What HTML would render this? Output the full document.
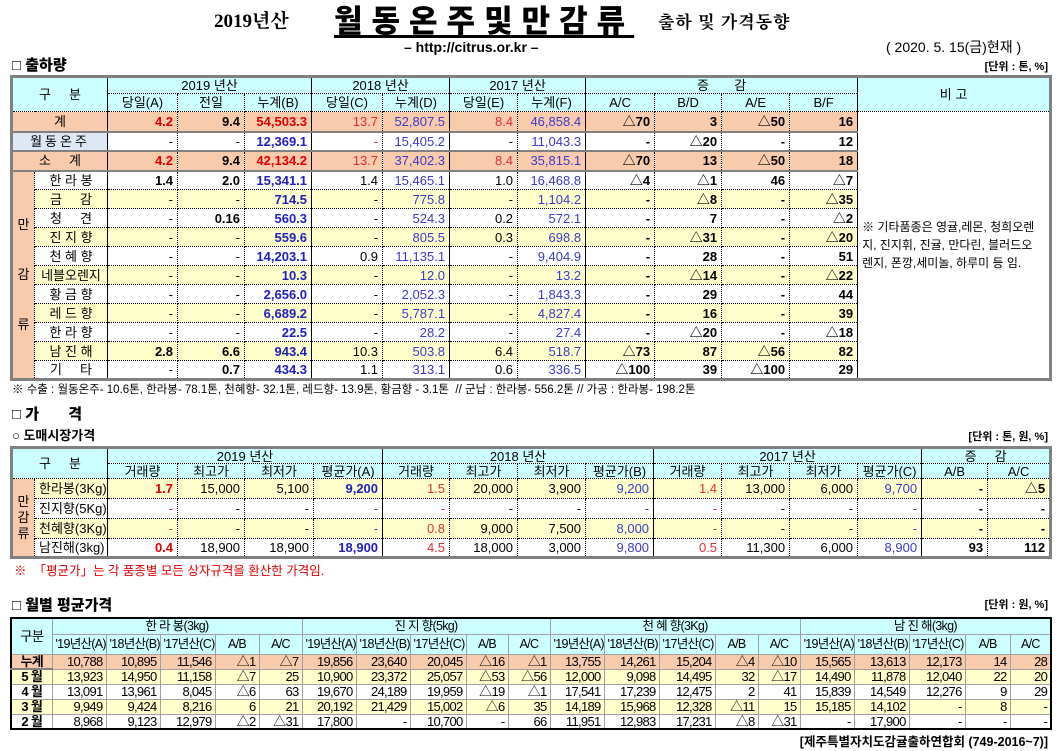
<!DOCTYPE html>
<html><head><meta charset="utf-8">
<style>
body{margin:0;background:#fff;width:1062px;height:751px;position:relative;overflow:hidden;font-family:"Liberation Sans","Noto Sans CJK KR",sans-serif;color:#000}
.a{position:absolute;white-space:nowrap;line-height:1.15}
table{position:absolute;border-collapse:collapse;table-layout:fixed}
td{padding:0 4px;text-align:right;white-space:nowrap;overflow:hidden;font-size:13px;line-height:13px}
.t1,.t2{border:3px solid #808080}
.t1 td,.t2 td{border:1px dotted #000}
.h td{background:#ccffff;text-align:center;font-weight:normal}
.c{text-align:center!important}
.l{text-align:left!important}
.pe td{background:#f8cbad}
.ye td{background:#ffffcc}
.wh td{background:#fff}
.sb{border-left:1px solid #000!important}
.gb td{border-bottom:2px solid #808080!important}
.r{color:#e00000;font-weight:bold}
.rn{color:#e03030}
.b{color:#2020c0;font-weight:bold}
.bn{color:#3a3acc}
.k{font-weight:bold}
.t3{border:2px solid #000}
.t3 td{border:1px solid #a0a0a0;font-size:13px;letter-spacing:-0.7px;padding:0 3px}
.t3 .sb{border-left:1px solid #000!important}
.t3 .h td{font-size:12.5px}
</style></head><body>

<div class="a" style="left:214px;top:11px;font-family:'Liberation Serif','Noto Serif CJK SC',serif;font-weight:bold;font-size:19px">2019년산</div>
<div class="a" style="left:334px;top:4px;font-family:'Liberation Sans','Noto Sans CJK KR',sans-serif;font-weight:900;font-size:31px;letter-spacing:9px;text-decoration:underline;text-underline-offset:3px">월동온주및만감류</div>
<div class="a" style="left:658px;top:13px;font-family:'Liberation Serif','Noto Serif CJK SC',serif;font-weight:bold;font-size:17px;letter-spacing:1px">출하 및 가격동향</div>
<div class="a" style="left:404px;top:39px;font-weight:bold;font-size:14px">– http://citrus.or.kr –</div>
<div class="a" style="left:886px;top:39px;font-size:14px">( 2020. 5. 15(금)현재 )</div>
<div class="a" style="left:12px;top:57px;font-weight:900;font-size:15px">□ 출하량</div>
<div class="a" style="right:14px;top:61px;font-weight:bold;font-size:11px">[단위 : 톤, %]</div>

<table class="t1" style="left:10px;top:75px;width:1039px">
<colgroup><col style="width:23px"><col style="width:73px"><col style="width:70px"><col style="width:67px"><col style="width:67px"><col style="width:71px"><col style="width:67px"><col style="width:68px"><col style="width:68px"><col style="width:69px"><col style="width:67px"><col style="width:68px"><col style="width:68px"><col style="width:193px"></colgroup>
<tr class="h" style="height:17px"><td colspan="2" rowspan="2">구 &nbsp; &nbsp; 분</td><td colspan="3" class="sb">2019 년산</td><td colspan="2" class="sb">2018 년산</td><td colspan="2" class="sb">2017 년산</td><td colspan="4" class="sb">증 &nbsp; &nbsp; &nbsp; 감</td><td rowspan="2" class="sb">비 고</td></tr>
<tr class="h" style="height:18px"><td class="sb">당일(A)</td><td>전일</td><td>누계(B)</td><td class="sb">당일(C)</td><td>누계(D)</td><td class="sb">당일(E)</td><td>누계(F)</td><td class="sb">A/C</td><td>B/D</td><td>A/E</td><td>B/F</td></tr>
<tr class="pe gb" style="height:20px"><td colspan="2" class="c">계</td><td class="sb r">4.2</td><td class="k">9.4</td><td class="r">54,503.3</td><td class="sb rn">13.7</td><td class="bn">52,807.5</td><td class="sb rn">8.4</td><td class="bn">46,858.4</td><td class="sb k">△70</td><td class="k">3</td><td class="k">△50</td><td class="k">16</td><td rowspan="14" class="sb l" style="background:#fff;font-size:12px;line-height:18px;padding-top:0;vertical-align:middle">※ 기타품종은 영귤,레몬, 청희오렌<br>지, 진지휘, 진귤, 만다린, 블러드오<br>렌지, 폰깡,세미놀, 하루미 등 임.</td></tr>
<tr class="wh gb" style="height:19px"><td colspan="2" class="c" style="background:#dde8f4;letter-spacing:3px">월동온주</td><td class="sb">-</td><td>-</td><td class="b">12,369.1</td><td class="sb rn">-</td><td class="bn">15,405.2</td><td class="sb">-</td><td class="bn">11,043.3</td><td class="sb k">-</td><td class="k">△20</td><td class="k">-</td><td class="k">12</td></tr>
<tr class="pe gb" style="height:20px"><td colspan="2" class="c">소 &nbsp; &nbsp; 계</td><td class="sb r">4.2</td><td class="k">9.4</td><td class="r">42,134.2</td><td class="sb rn">13.7</td><td class="bn">37,402.3</td><td class="sb rn">8.4</td><td class="bn">35,815.1</td><td class="sb k">△70</td><td class="k">13</td><td class="k">△50</td><td class="k">18</td></tr>
<tr class="wh" style="height:19px"><td rowspan="11" class="c" style="background:#f8cbad;line-height:50px;padding:0">만<br>감<br>류</td><td class="c">한 라 봉</td><td class="sb k">1.4</td><td class="k">2.0</td><td class="b">15,341.1</td><td class="sb">1.4</td><td class="bn">15,465.1</td><td class="sb">1.0</td><td class="bn">16,468.8</td><td class="sb k">△4</td><td class="k">△1</td><td class="k">46</td><td class="k">△7</td></tr>
<tr class="ye" style="height:19px"><td class="c">금 &nbsp; &nbsp; 감</td><td class="sb">-</td><td>-</td><td class="b">714.5</td><td class="sb">-</td><td class="bn">775.8</td><td class="sb">-</td><td class="bn">1,104.2</td><td class="sb k">-</td><td class="k">△8</td><td class="k">-</td><td class="k">△35</td></tr>
<tr class="wh" style="height:19px"><td class="c">청 &nbsp; &nbsp; 견</td><td class="sb">-</td><td class="k">0.16</td><td class="b">560.3</td><td class="sb">-</td><td class="bn">524.3</td><td class="sb">0.2</td><td class="bn">572.1</td><td class="sb k">-</td><td class="k">7</td><td class="k">-</td><td class="k">△2</td></tr>
<tr class="ye" style="height:19px"><td class="c">진 지 향</td><td class="sb">-</td><td>-</td><td class="b">559.6</td><td class="sb">-</td><td class="bn">805.5</td><td class="sb">0.3</td><td class="bn">698.8</td><td class="sb k">-</td><td class="k">△31</td><td class="k">-</td><td class="k">△20</td></tr>
<tr class="wh" style="height:19px"><td class="c">천 혜 향</td><td class="sb">-</td><td>-</td><td class="b">14,203.1</td><td class="sb">0.9</td><td class="bn">11,135.1</td><td class="sb">-</td><td class="bn">9,404.9</td><td class="sb k">-</td><td class="k">28</td><td class="k">-</td><td class="k">51</td></tr>
<tr class="ye" style="height:19px"><td class="c">네블오렌지</td><td class="sb">-</td><td>-</td><td class="b">10.3</td><td class="sb">-</td><td class="bn">12.0</td><td class="sb">-</td><td class="bn">13.2</td><td class="sb k">-</td><td class="k">△14</td><td class="k">-</td><td class="k">△22</td></tr>
<tr class="wh" style="height:19px"><td class="c">황 금 향</td><td class="sb">-</td><td>-</td><td class="b">2,656.0</td><td class="sb">-</td><td class="bn">2,052.3</td><td class="sb">-</td><td class="bn">1,843.3</td><td class="sb k">-</td><td class="k">29</td><td class="k">-</td><td class="k">44</td></tr>
<tr class="ye" style="height:19px"><td class="c">레 드 향</td><td class="sb">-</td><td>-</td><td class="b">6,689.2</td><td class="sb">-</td><td class="bn">5,787.1</td><td class="sb">-</td><td class="bn">4,827.4</td><td class="sb k">-</td><td class="k">16</td><td class="k">-</td><td class="k">39</td></tr>
<tr class="wh" style="height:19px"><td class="c">한 라 향</td><td class="sb">-</td><td>-</td><td class="b">22.5</td><td class="sb">-</td><td class="bn">28.2</td><td class="sb">-</td><td class="bn">27.4</td><td class="sb k">-</td><td class="k">△20</td><td class="k">-</td><td class="k">△18</td></tr>
<tr class="ye" style="height:19px"><td class="c">남 진 해</td><td class="sb k">2.8</td><td class="k">6.6</td><td class="b">943.4</td><td class="sb">10.3</td><td class="bn">503.8</td><td class="sb">6.4</td><td class="bn">518.7</td><td class="sb k">△73</td><td class="k">87</td><td class="k">△56</td><td class="k">82</td></tr>
<tr class="wh" style="height:19px"><td class="c">기 &nbsp; &nbsp; 타</td><td class="sb">-</td><td class="k">0.7</td><td class="b">434.3</td><td class="sb">1.1</td><td class="bn">313.1</td><td class="sb">0.6</td><td class="bn">336.5</td><td class="sb k">△100</td><td class="k">39</td><td class="k">△100</td><td class="k">29</td></tr>
</table>

<div class="a" style="left:12px;top:384px;font-size:11.5px">※ 수출 : 월동온주- 10.6톤, 한라봉- 78.1톤, 천혜향- 32.1톤, 레드향- 13.9톤, 황금향 - 3.1톤 &nbsp;// 군납 : 한라봉- 556.2톤 // 가공 : 한라봉- 198.2톤</div>

<div class="a" style="left:12px;top:406px;font-weight:900;font-size:15px">□ 가 &nbsp; &nbsp; &nbsp; 격</div>
<div class="a" style="left:12px;top:429px;font-weight:bold;font-size:13px">○ 도매시장가격</div>
<div class="a" style="right:14px;top:431px;font-weight:bold;font-size:11px">[단위 : 톤, 원, %]</div>

<table class="t2" style="left:10px;top:446px;width:1039px">
<colgroup><col style="width:23px"><col style="width:73px"><col style="width:70px"><col style="width:67px"><col style="width:69px"><col style="width:69px"><col style="width:67px"><col style="width:68px"><col style="width:68px"><col style="width:68px"><col style="width:68px"><col style="width:68px"><col style="width:68px"><col style="width:64px"><col style="width:66px"><col style="width:63px"></colgroup>
<tr class="h" style="height:16px"><td colspan="2" rowspan="2">구 &nbsp; &nbsp; 분</td><td colspan="4" class="sb">2019 년산</td><td colspan="4" class="sb">2018 년산</td><td colspan="4" class="sb">2017 년산</td><td colspan="2" class="sb">증 &nbsp; &nbsp; 감</td></tr>
<tr class="h" style="height:15px"><td class="sb">거래량</td><td>최고가</td><td>최저가</td><td>평균가(A)</td><td class="sb">거래량</td><td>최고가</td><td>최저가</td><td>평균가(B)</td><td class="sb">거래량</td><td>최고가</td><td>최저가</td><td>평균가(C)</td><td class="sb">A/B</td><td>A/C</td></tr>
<tr class="ye" style="height:20px"><td rowspan="4" class="c" style="background:#f8cbad;line-height:16px;padding:0">만<br>감<br>류</td><td class="l">한라봉(3Kg)</td><td class="sb r">1.7</td><td>15,000</td><td>5,100</td><td class="b">9,200</td><td class="sb rn">1.5</td><td>20,000</td><td>3,900</td><td class="bn">9,200</td><td class="sb rn">1.4</td><td>13,000</td><td>6,000</td><td class="bn">9,700</td><td class="sb k">-</td><td class="k">△5</td></tr>
<tr class="wh" style="height:20px"><td class="l">진지향(5Kg)</td><td class="sb rn">-</td><td>-</td><td>-</td><td class="bn">-</td><td class="sb rn">-</td><td>-</td><td>-</td><td class="bn">-</td><td class="sb rn">-</td><td>-</td><td>-</td><td class="bn">-</td><td class="sb k">-</td><td class="k">-</td></tr>
<tr class="ye" style="height:20px"><td class="l">천혜향(3Kg)</td><td class="sb rn">-</td><td>-</td><td>-</td><td class="bn">-</td><td class="sb rn">0.8</td><td>9,000</td><td>7,500</td><td class="bn">8,000</td><td class="sb rn">-</td><td>-</td><td>-</td><td class="bn">-</td><td class="sb k">-</td><td class="k">-</td></tr>
<tr class="wh" style="height:19px"><td class="l">남진해(3kg)</td><td class="sb r">0.4</td><td>18,900</td><td>18,900</td><td class="b">18,900</td><td class="sb rn">4.5</td><td>18,000</td><td>3,000</td><td class="bn">9,800</td><td class="sb rn">0.5</td><td>11,300</td><td>6,000</td><td class="bn">8,900</td><td class="sb k">93</td><td class="k">112</td></tr>
</table>
<div class="a" style="left:14px;top:564px;font-size:12.5px;color:#e00000">※ &nbsp;「평균가」는 각 품종별 모든 상자규격을 환산한 가격임.</div>

<div class="a" style="left:12px;top:597px;font-weight:900;font-size:15px">□ 월별 평균가격</div>
<div class="a" style="right:14px;top:599px;font-weight:bold;font-size:11px">[단위 : 원, %]</div>

<table class="t3" style="left:10px;top:617px;width:1040px">
<colgroup><col style="width:41px"><col style="width:54px"><col style="width:54px"><col style="width:55px"><col style="width:44px"><col style="width:43px"><col style="width:54px"><col style="width:54px"><col style="width:56px"><col style="width:42px"><col style="width:42px"><col style="width:54px"><col style="width:55px"><col style="width:56px"><col style="width:43px"><col style="width:42px"><col style="width:54px"><col style="width:55px"><col style="width:56px"><col style="width:45px"><col style="width:41px"></colgroup>
<tr class="h" style="height:16px"><td rowspan="2" style="font-size:13.5px">구분</td><td colspan="5" class="sb">한 라 봉(3kg)</td><td colspan="5" class="sb">진 지 향(5kg)</td><td colspan="5" class="sb">천 혜 향(3Kg)</td><td colspan="5" class="sb">남 진 해(3kg)</td></tr>
<tr class="h" style="height:20px"><td class="sb">'19년산(A)</td><td>'18년산(B)</td><td>'17년산(C)</td><td>A/B</td><td>A/C</td><td class="sb">'19년산(A)</td><td>'18년산(B)</td><td>'17년산(C)</td><td>A/B</td><td>A/C</td><td class="sb">'19년산(A)</td><td>'18년산(B)</td><td>'17년산(C)</td><td>A/B</td><td>A/C</td><td class="sb">'19년산(A)</td><td>'18년산(B)</td><td>'17년산(C)</td><td>A/B</td><td>A/C</td></tr>
<tr class="pe" style="height:15px"><td class="c k" style="border-bottom:2px solid #808080">누계</td><td class="sb">10,788</td><td>10,895</td><td>11,546</td><td>△1</td><td>△7</td><td class="sb">19,856</td><td>23,640</td><td>20,045</td><td>△16</td><td>△1</td><td class="sb">13,755</td><td>14,261</td><td>15,204</td><td>△4</td><td>△10</td><td class="sb">15,565</td><td>13,613</td><td>12,173</td><td>14</td><td>28</td></tr>
<tr class="ye" style="height:15px"><td class="c k">5 월</td><td class="sb">13,923</td><td>14,950</td><td>11,158</td><td>△7</td><td>25</td><td class="sb">10,900</td><td>23,372</td><td>25,057</td><td>△53</td><td>△56</td><td class="sb">12,000</td><td>9,098</td><td>14,495</td><td>32</td><td>△17</td><td class="sb">14,490</td><td>11,878</td><td>12,040</td><td>22</td><td>20</td></tr>
<tr class="wh" style="height:15px"><td class="c k">4 월</td><td class="sb">13,091</td><td>13,961</td><td>8,045</td><td>△6</td><td>63</td><td class="sb">19,670</td><td>24,189</td><td>19,959</td><td>△19</td><td>△1</td><td class="sb">17,541</td><td>17,239</td><td>12,475</td><td>2</td><td>41</td><td class="sb">15,839</td><td>14,549</td><td>12,276</td><td>9</td><td>29</td></tr>
<tr class="ye" style="height:15px"><td class="c k">3 월</td><td class="sb">9,949</td><td>9,424</td><td>8,216</td><td>6</td><td>21</td><td class="sb">20,192</td><td>21,429</td><td>15,002</td><td>△6</td><td>35</td><td class="sb">14,189</td><td>15,968</td><td>12,328</td><td>△11</td><td>15</td><td class="sb">15,185</td><td>14,102</td><td>-</td><td>8</td><td>-</td></tr>
<tr class="wh" style="height:15px"><td class="c k">2 월</td><td class="sb">8,968</td><td>9,123</td><td>12,979</td><td>△2</td><td>△31</td><td class="sb">17,800</td><td>-</td><td>10,700</td><td>-</td><td>66</td><td class="sb">11,951</td><td>12,983</td><td>17,231</td><td>△8</td><td>△31</td><td class="sb">-</td><td>17,900</td><td>-</td><td>-</td><td>-</td></tr>
</table>
<div class="a" style="right:14px;top:735px;font-weight:bold;font-size:12.5px">[제주특별자치도감귤출하연합회 (749-2016~7)]</div>
</body></html>
